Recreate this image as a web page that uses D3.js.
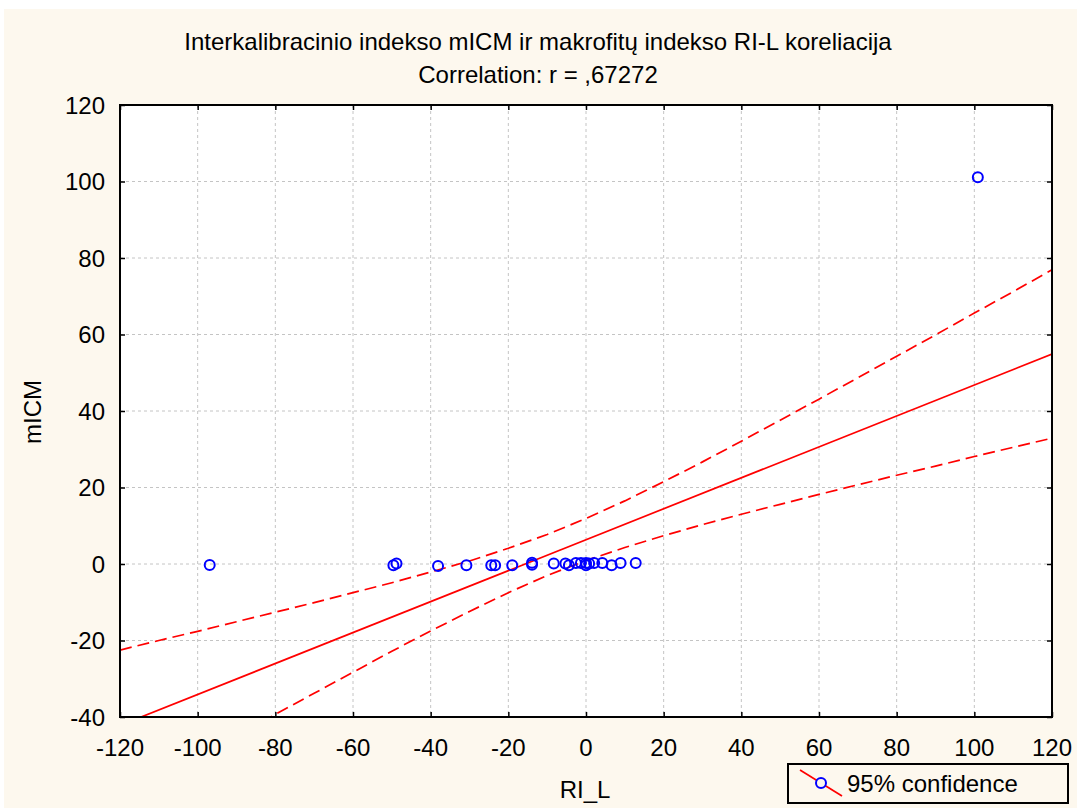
<!DOCTYPE html>
<html>
<head>
<meta charset="utf-8">
<script src="https://cdn.jsdelivr.net/npm/d3@7"></script>
<style>
  body { margin: 0; background: #ffffff; }
  text { font-family: "Liberation Sans", Arial, sans-serif; fill: #000; }
</style>
</head>
<body>
<div id="chart"></div>
<script>
// scatter points (RI_L, mICM)
var riL  = [-96.9, -49.6, -48.8, -38.1, -30.8, -24.4, -23.4, -19.0, -13.9, -13.9, -8.3, -5.3, -4.4, -2.6, -1.3, 0.0, 0.0, 0.8, 2.1, 4.2, 6.6, 8.9, 12.8, 100.9];
var micm = [-0.25, -0.35, 0.1, -0.5, -0.35, -0.35, -0.35, -0.35, 0.35, -0.2, 0.1, 0.1, -0.35, 0.25, 0.25, 0.25, -0.35, 0.1, 0.25, 0.25, -0.35, 0.25, 0.25, 101.1];

// regression line end points and 95% band
var fitX = [-120, 120];
var fitY = [-42.2, 54.9];
var bandX = [-120, -110, -100, -90, -80, -70, -60, -50, -40, -30, -20, -10, 0, 10, 20, 30, 40, 50, 60, 70, 80, 90, 100, 110, 120];
var bandUp = [-22.5, -20.0, -17.6, -15.1, -12.6, -10.1, -7.5, -4.9, -2.1, 0.8, 4.1, 7.7, 11.9, 16.5, 21.5, 26.7, 32.1, 37.6, 43.1, 48.7, 54.3, 59.9, 65.6, 71.2, 76.9];
var bandLo = [-61.9, -56.2, -50.6, -44.9, -39.3, -33.8, -28.3, -22.8, -17.5, -12.4, -7.5, -3.0, 0.9, 4.3, 7.4, 10.3, 13.0, 15.6, 18.2, 20.7, 23.2, 25.6, 28.1, 30.5, 32.9];

var xTicks = [-120, -100, -80, -60, -40, -20, 0, 20, 40, 60, 80, 100, 120];
var yTicks = [-40, -20, 0, 20, 40, 60, 80, 100, 120];

var W = 1077, H = 808;
var margin = {top: 105, left: 120, right: 25, bottom: 91};
var fs = "24px";

var svg = d3.select("#chart").append("svg")
    .attr("width", W)
    .attr("height", H);

// cream page
svg.append("rect").attr("x", 4).attr("y", 9).attr("width", W - 4).attr("height", H - 9).attr("fill", "#fdf8ee");

var x = d3.scaleLinear().domain([-120, 120]).range([margin.left, W - margin.right]);
var y = d3.scaleLinear().domain([-40, 120]).range([H - margin.bottom, margin.top]);

var x0 = x.range()[0], x1 = x.range()[1], y0 = y.range()[1], y1 = y.range()[0];

svg.append("rect").attr("x", x0).attr("y", y0).attr("width", x1 - x0).attr("height", y1 - y0).attr("fill", "#fff");

svg.append("clipPath").attr("id", "plotclip")
  .append("rect").attr("x", x0).attr("y", y0).attr("width", x1 - x0).attr("height", y1 - y0);

// grid
var grid = svg.append("g");
grid.selectAll(".gx").data(xTicks.slice(1, -1)).enter().append("line")
    .attr("x1", function(d) { return x(d); }).attr("x2", function(d) { return x(d); })
    .attr("y1", y0).attr("y2", y1)
    .style("stroke", "#c4c4c4").style("stroke-dasharray", "3,3");
grid.selectAll(".gy").data(yTicks.slice(1, -1)).enter().append("line")
    .attr("y1", function(d) { return y(d); }).attr("y2", function(d) { return y(d); })
    .attr("x1", x0).attr("x2", x1)
    .style("stroke", "#c4c4c4").style("stroke-dasharray", "3,3");

// axes (ticks inside, on all four sides)
svg.append("g").attr("transform", "translate(0," + y1 + ")")
    .call(d3.axisTop(x).tickValues(xTicks).tickSize(5).tickFormat(""))
    .call(function(g) { g.select(".domain").remove(); });
svg.append("g").attr("transform", "translate(0," + y0 + ")")
    .call(d3.axisBottom(x).tickValues(xTicks).tickSize(5).tickFormat(""))
    .call(function(g) { g.select(".domain").remove(); });
svg.append("g").attr("transform", "translate(" + x0 + ",0)")
    .call(d3.axisRight(y).tickValues(yTicks).tickSize(5).tickFormat(""))
    .call(function(g) { g.select(".domain").remove(); });
svg.append("g").attr("transform", "translate(" + x1 + ",0)")
    .call(d3.axisLeft(y).tickValues(yTicks).tickSize(5).tickFormat(""))
    .call(function(g) { g.select(".domain").remove(); });
svg.selectAll(".tick line").style("stroke", "#000").style("stroke-width", "1.5px");

// tick labels
svg.append("g").selectAll("text").data(xTicks).enter().append("text")
    .attr("x", function(d) { return x(d); })
    .attr("y", y1 + 39)
    .attr("text-anchor", "middle")
    .style("font-size", fs)
    .text(function(d) { return d; });
svg.append("g").selectAll("text").data(yTicks).enter().append("text")
    .attr("x", x0 - 15)
    .attr("y", function(d) { return y(d) + 8.5; })
    .attr("text-anchor", "end")
    .style("font-size", fs)
    .text(function(d) { return d; });

// lines
var plot = svg.append("g").attr("clip-path", "url(#plotclip)");
var band = d3.line()
    .x(function(d) { return x(d[0]); })
    .y(function(d) { return y(d[1]); });

plot.append("path")
    .datum(fitX.map(function(v, i) { return [v, fitY[i]]; }))
    .attr("d", band)
    .style("fill", "none").style("stroke", "#f00").style("stroke-width", "1.7px");
plot.append("path")
    .datum(bandX.map(function(v, i) { return [v, bandUp[i]]; }))
    .attr("d", band)
    .style("fill", "none").style("stroke", "#f00").style("stroke-width", "1.7px").style("stroke-dasharray", "12,6");
plot.append("path")
    .datum(bandX.map(function(v, i) { return [v, bandLo[i]]; }))
    .attr("d", band)
    .style("fill", "none").style("stroke", "#f00").style("stroke-width", "1.7px").style("stroke-dasharray", "12,6");

// points
plot.selectAll("circle").data(riL).enter().append("circle")
    .attr("cx", function(d) { return x(d); })
    .attr("cy", function(d, i) { return y(micm[i]); })
    .attr("r", 5)
    .style("fill", "none").style("stroke", "#0000ff").style("stroke-width", "2px");

// frame
svg.append("rect").attr("x", x0).attr("y", y0).attr("width", x1 - x0).attr("height", y1 - y0)
    .style("fill", "none").style("stroke", "#000").style("stroke-width", "2px");

// titles
svg.append("text").attr("x", 538).attr("y", 50).attr("text-anchor", "middle")
    .style("font-size", fs).text("Interkalibracinio indekso mICM ir makrofitų indekso RI-L koreliacija");
svg.append("text").attr("x", 538).attr("y", 83).attr("text-anchor", "middle")
    .style("font-size", fs).text("Correlation: r = ,67272");
svg.append("text").attr("x", 585).attr("y", 798).attr("text-anchor", "middle")
    .style("font-size", fs).text("RI_L");
svg.append("text").attr("transform", "translate(41,412) rotate(-90)").attr("text-anchor", "middle")
    .style("font-size", fs).text("mICM");

// legend
var lg = svg.append("g");
lg.append("rect").attr("x", 788).attr("y", 764).attr("width", 280).attr("height", 39)
    .style("fill", "#fdf8ee").style("stroke", "#000").style("stroke-width", "2px");
lg.append("line").attr("x1", 800).attr("y1", 770).attr("x2", 842).attr("y2", 796)
    .style("stroke", "#f00").style("stroke-width", "1.7px");
lg.append("circle").attr("cx", 821).attr("cy", 783).attr("r", 5)
    .style("fill", "#fdf8ee").style("stroke", "#0000ff").style("stroke-width", "2px");
lg.append("text").attr("x", 847).attr("y", 792).style("font-size", fs).text("95% confidence");
</script>
</body>
</html>
